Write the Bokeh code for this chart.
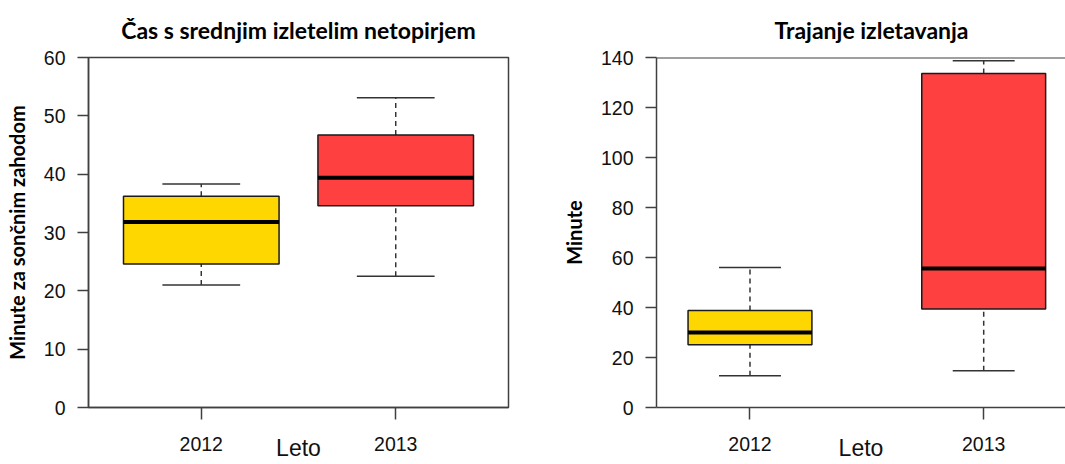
from bokeh.plotting import figure
from bokeh.layouts import row
from bokeh.models import Range1d, FixedTicker, Span
from bokeh.embed import file_html
from bokeh.resources import INLINE

# ---------------- data ----------------
years = ["2012", "2013"]
box_colors = ["#FFD700", "#FF4040"]
xlabel = "Leto"

# Panel 1: time of median emerged bat (minutes after sunset)
title1 = "Čas s srednjim izletelim netopirjem"
ylabel1 = "Minute za sončnim zahodom"
lo1 = [21.0, 22.5]
q1_1 = [24.6, 34.6]
med1 = [31.8, 39.4]
q3_1 = [36.2, 46.7]
hi1 = [38.3, 53.1]
yticks1 = [0, 10, 20, 30, 40, 50, 60]

# Panel 2: emergence duration
title2 = "Trajanje izletavanja"
ylabel2 = "Minute"
lo2 = [12.7, 14.7]
q1_2 = [25.1, 39.4]
med2 = [30.0, 55.6]
q3_2 = [38.8, 133.6]
hi2 = [56.0, 138.7]
yticks2 = [0, 20, 40, 60, 80, 100, 120, 140]

TICK_FONT = "Liberation Sans"
TITLE_FONT = "Lato"
FRAME = "#404040"


def make_panel(title, ylabel, lo, q1, med, q3, hi, yticks, width, height,
               xr, bw, mb_left, mb_right, outline=True, title_align="center", title_offset=0):
    pos = [i + 1 for i in range(len(years))]
    p = figure(width=width, height=height, output_backend="svg", toolbar_location=None,
               x_range=Range1d(*xr), y_range=Range1d(yticks[0], yticks[-1]))
    p.min_border_left = mb_left
    p.min_border_right = mb_right
    p.min_border_top = 57
    p.min_border_bottom = 57
    p.background_fill_color = "white"
    p.border_fill_color = "white"
    p.grid.visible = False
    if outline:
        p.outline_line_color = FRAME
        p.outline_line_width = 1.5
    else:
        p.outline_line_color = None
        p.add_layout(Span(location=yticks[-1], dimension="width", line_color=FRAME, line_width=2))

    p.title.text = title
    p.title.align = title_align
    p.title.text_font = TITLE_FONT
    p.title.text_font_style = "bold"
    p.title.text_font_size = "23px"
    p.title.text_color = "black"
    p.title.offset = title_offset
    p.title.standoff = 27

    bh = bw / 2
    cw = bw / 4
    x = pos
    # whiskers
    p.segment(x0=x, x1=x, y0=q3, y1=hi, line_color="#333333", line_width=1.5, line_dash="5 4")
    p.segment(x0=x, x1=x, y0=lo, y1=q1, line_color="#333333", line_width=1.5, line_dash="5 4")
    p.segment(x0=[v - cw for v in x], x1=[v + cw for v in x], y0=hi, y1=hi,
              line_color="#333333", line_width=1.5)
    p.segment(x0=[v - cw for v in x], x1=[v + cw for v in x], y0=lo, y1=lo,
              line_color="#333333", line_width=1.5)
    # boxes
    p.vbar(x=x, width=bw, bottom=q1, top=q3, fill_color=box_colors,
           line_color="#1a1a1a", line_width=1.5)
    # medians
    p.segment(x0=[v - bh for v in x], x1=[v + bh for v in x], y0=med, y1=med,
              line_color="black", line_width=4)

    for ax in (p.xaxis[0], p.yaxis[0]):
        ax.axis_line_color = FRAME
        ax.axis_line_width = 1.5
        ax.major_tick_line_color = FRAME
        ax.major_tick_line_width = 1.5
        ax.major_tick_in = 0
        ax.major_tick_out = 11
        ax.minor_tick_line_color = None
        ax.major_label_text_font = TICK_FONT
        ax.major_label_text_font_size = "19.5px"
        ax.major_label_text_color = "#111111"
        ax.major_label_standoff = 12

    p.xaxis.ticker = FixedTicker(ticks=pos)
    p.xaxis.major_label_overrides = {v: y for v, y in zip(pos, years)}
    p.xaxis.major_tick_out = 12
    p.xaxis.major_label_standoff = 17
    p.xaxis.axis_label = xlabel
    p.xaxis.axis_label_text_font = TICK_FONT
    p.xaxis.axis_label_text_font_style = "normal"
    p.xaxis.axis_label_text_font_size = "23px"
    p.xaxis.axis_label_text_color = "#111111"
    p.xaxis.axis_label_standoff = -19

    p.yaxis.ticker = FixedTicker(ticks=yticks)
    p.yaxis.major_label_orientation = "horizontal"
    p.yaxis.axis_label = ylabel
    p.yaxis.axis_label_text_font = TITLE_FONT
    p.yaxis.axis_label_text_font_style = "bold"
    p.yaxis.axis_label_text_font_size = "20px"
    p.yaxis.axis_label_text_color = "black"
    p.yaxis.axis_label_standoff = 12
    return p


p1 = make_panel(title1, ylabel1, lo1, q1_1, med1, q3_1, hi1, yticks1,
                width=534, height=464, xr=(0.42, 2.58), bw=0.8,
                mb_left=88, mb_right=26, outline=True)
p2 = make_panel(title2, ylabel2, lo2, q1_2, med2, q3_2, hi2, yticks2,
                width=531, height=464, xr=(0.60, 2.35), bw=0.53,
                mb_left=122, mb_right=0, outline=False,
                title_align="left", title_offset=118)

layout = row(p1, p2)
open("out.html", "w").write(file_html(layout, INLINE))
